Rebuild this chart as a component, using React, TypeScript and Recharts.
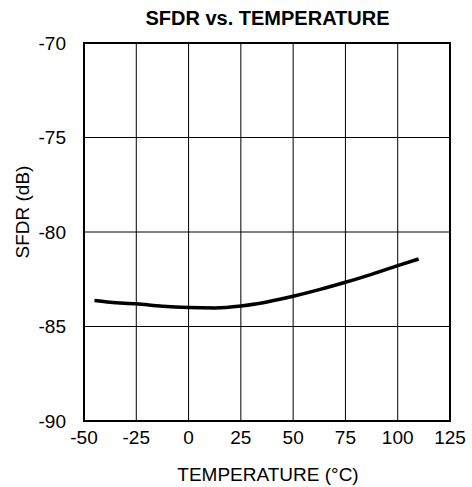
import { CartesianGrid, Line, LineChart, ReferenceArea, XAxis, YAxis } from "recharts";

const temperatures = [-45, -37.5, -25, -12.5, 0, 12.5, 25, 37.5, 50, 62.5, 75, 87.5, 100, 110];
const sfdrValues = [-83.63, -83.72, -83.8, -83.93, -84.0, -84.02, -83.92, -83.7, -83.4, -83.05, -82.66, -82.24, -81.78, -81.43];
const xTicks = [-50, -25, 0, 25, 50, 75, 100, 125];
const yTicks = [-90, -85, -80, -75, -70];

const data = temperatures.map((t, i) => ({ temp: t, sfdr: sfdrValues[i] }));

const font = "'Liberation Sans', Arial, sans-serif";

const YLabel = () => (
    <text
        x={22}
        y={212}
        transform="rotate(-90 22 212)"
        textAnchor="middle"
        dominantBaseline="central"
        fontSize={19}
        fill="#000"
        fontFamily={font}
    >
        SFDR (dB)
    </text>
);

const XLabel = () => (
    <text x={268} y={481} textAnchor="middle" fontSize={19} fill="#000" fontFamily={font}>
        TEMPERATURE (°C)
    </text>
);

export default function App() {
    return (
        <div style={{ position: "absolute", left: 0, top: 0, width: 472, height: 487, background: "#fff" }}>
            <div
                style={{
                    position: "absolute",
                    left: 0,
                    width: 535,
                    top: 7,
                    lineHeight: "23px",
                    textAlign: "center",
                    fontFamily: font,
                    fontWeight: "bold",
                    fontSize: 20,
                    color: "#000",
                }}
            >
                SFDR vs. TEMPERATURE
            </div>
            <LineChart
                width={472}
                height={487}
                data={data}
                margin={{ top: 43, right: 22, bottom: 0, left: 0 }}
                style={{ fontFamily: font }}
            >
                <CartesianGrid stroke="#000" strokeWidth={1} />
                <XAxis
                    dataKey="temp"
                    type="number"
                    domain={[-50, 125]}
                    ticks={xTicks}
                    tickLine={false}
                    axisLine={false}
                    height={66}
                    tick={{ fill: "#000", fontSize: 19 }}
                    tickMargin={4}
                    interval={0}
                    label={<XLabel />}
                />
                <YAxis
                    type="number"
                    domain={[-90, -70]}
                    ticks={yTicks}
                    tickLine={false}
                    axisLine={false}
                    width={84}
                    tick={{ fill: "#000", fontSize: 19 }}
                    tickMargin={12}
                    interval={0}
                    label={<YLabel />}
                />
                <ReferenceArea x1={-50} x2={125} y1={-90} y2={-70} fill="none" stroke="#000" strokeWidth={2} ifOverflow="visible" />
                <Line
                    dataKey="sfdr"
                    type="monotone"
                    stroke="#000"
                    strokeWidth={3.5}
                    dot={false}
                    isAnimationActive={false}
                />
            </LineChart>
        </div>
    );
}
